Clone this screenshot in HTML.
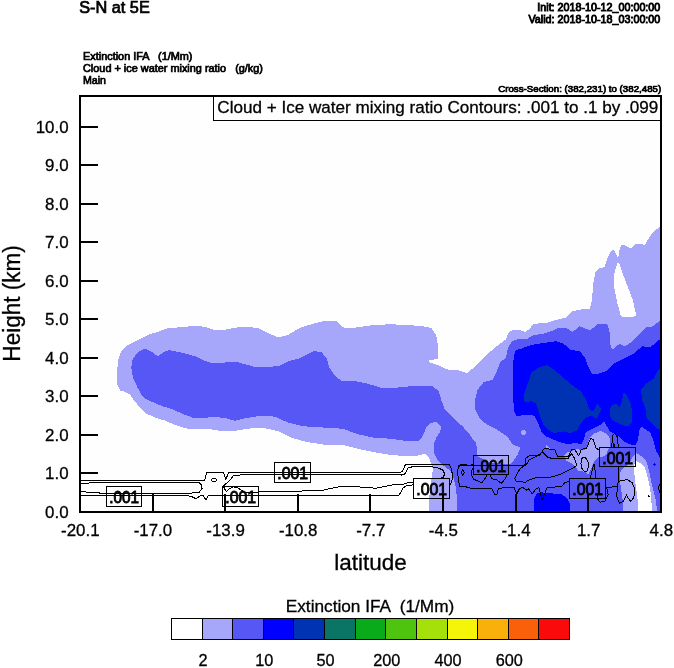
<!DOCTYPE html>
<html><head><meta charset="utf-8"><title>S-N at 5E</title>
<style>
html,body{margin:0;padding:0;background:#fff;}
body{width:674px;height:668px;overflow:hidden;font-family:"Liberation Sans",sans-serif;}
svg{display:block}
svg text{filter:grayscale(1)}
svg text{font-family:"Liberation Sans",sans-serif;fill:#000;white-space:pre;stroke:#000;stroke-width:0.3px}
.f path{stroke:none;shape-rendering:crispEdges}
.ax{stroke:#000;stroke-width:2;fill:none;shape-rendering:crispEdges}
.cl path{stroke:#000;stroke-width:1;fill:none;stroke-linejoin:round;shape-rendering:crispEdges}
.lb rect{fill:none;stroke:#000;stroke-width:1;shape-rendering:crispEdges}
.b text{stroke:#000;stroke-width:0.7px}
</style></head><body>
<svg width="674" height="668" viewBox="0 0 674 668">
<rect x="0" y="0" width="674" height="668" fill="#ffffff"/>

<rect x="80" y="96" width="581" height="416" fill="#fefefe"/>
<clipPath id="pc"><rect x="80" y="96" width="582" height="416"/></clipPath>
<g class="f" clip-path="url(#pc)">
<path fill="#a6a6fa" d="M117 375 L118 360 L121.25 351.25 L126.25 345.75 L135 341.25 L147.5 335 L157.5 332 L167.5 328.25 L182.5 327 L196.25 325.75 L205 327 L212.5 329.5 L221.25 330.5 L230 328.75 L240 327 L250 327 L260 328.75 L268 333 L278 337.5 L288 335 L300.5 327.5 L313 323.75 L325.5 320.5 L335.5 320.5 L344.25 328 L355.5 327.5 L373 325 L390.5 324.25 L408 325 L423 326.25 L431.25 328 L436.25 335 L438.25 347.5 L437.5 358.75 L428.75 360.5 L428.75 362 L435 364 L438.75 365.5 L447.5 369.5 L457.5 370 L467.5 373.25 L476.25 365 L485 356.25 L495 347.5 L505 340 L506 340 L508.5 332.5 L513.5 329.5 L519.75 330 L524.75 332 L529.75 328.75 L533.5 323.75 L546 323 L556 320 L566 317.5 L572.25 311.25 L581 309.5 L583.9 308.6 L589.7 309 L591.8 300.7 L593.4 282.6 L595.4 271.9 L598.7 268.6 L604.5 267 L607 259.5 L610.6 252.1 L613.2 249.3 L616 253.5 L618.2 258.7 L619.3 250 L621.8 244.4 L626.7 246.4 L630.8 248.3 L635.8 243.6 L644.8 244.7 L649.8 236.5 L654.7 230.7 L659.7 226.9 L662 226 L662 513 L429.4 513 L429.4 495.8 L431.2 481.5 L432.9 469 L429.4 458.4 L424.9 453.9 L418 455.5 L408 456.25 L390.5 455 L373 452 L355.5 448.25 L340.5 444.5 L323 444.5 L305.5 441.75 L290.5 437.5 L278 431.25 L268 428.75 L257.5 427.5 L247.5 428.75 L235 430.75 L222.5 431.25 L210 429.25 L195 429.5 L185 428.25 L175 425 L165.5 420.75 L155 417.5 L145 413 L140 407.5 L133.75 400 L130.5 395 L125 392 L120.5 390.5 L117.5 385Z"/>
<path fill="#ffffff" d="M617.2 263.2 L613.5 276 L613.5 284.3 L617.2 302.4 L621 316.4 L631.7 317.5 L636.3 315.2 L632.5 299.1 L626.7 284.3 L621.8 271.1 L619.3 263.2Z"/>
<path fill="#5757f5" d="M131.25 367.5 L132.5 360 L136.25 353.75 L141.25 350 L145.5 348.75 L150 350.75 L158 356.25 L163.75 352 L168.75 350 L175 351.25 L186.25 353.75 L195 356.25 L205 360.75 L212.5 363.25 L220 363.25 L227.5 362 L236.25 361.75 L245 364.25 L255 367 L262.5 367.5 L268 366.75 L278 366.25 L288 361.25 L298 358.75 L308 353.75 L314.25 350.75 L321.75 352.5 L326.75 358.75 L329.25 367.5 L334.25 375 L341.75 381.25 L353 380.75 L368 383.75 L380.5 387.5 L398 387.5 L415.5 385.75 L430.5 385.75 L432.5 386.25 L438.75 391.25 L441.25 400 L445 410 L452.5 417.5 L462.5 426.25 L470 435 L471.2 437 L475.7 442.3 L477.4 449.5 L477 456 L484 459.5 L491 463 L511 464 L513.5 461 L517.6 454.8 L520.3 447.7 L512.3 444.1 L507.8 437 L497.5 430 L487.5 425 L480 418.75 L475.5 410 L475 400 L477.5 390 L483.75 382 L492.5 380 L496.25 372.5 L500 362.5 L506 357.5 L508 347.5 L512.25 341.25 L518.5 338.75 L526 339.5 L533.5 335 L543.5 333.75 L551 331.25 L558.5 327.5 L566 327.5 L572.25 332 L579.75 326.25 L586 328.75 L589.75 330.5 L597.25 324.5 L607.25 323.75 L609.75 332.5 L610.5 345 L612.25 349.5 L619.75 343.75 L624.75 346.25 L631 342.5 L638.5 335 L646 327.5 L653.5 326.25 L660.25 320 L662 320 L662 513 L456.6 513 L457 499.3 L456.1 488.6 L453.4 477.9 L450.7 470.8 L444.5 466.4 L438.3 461 L433.8 453 L433.8 444.1 L436.5 437 L440 432.5 L441.25 426.25 L436.25 422 L430 423 L426.25 427.5 L422.3 437 L417.8 441.5 L408 441.25 L390.5 438.75 L373 437.5 L358 434.25 L343 428.75 L323 427.5 L303 426.25 L288 422.5 L275.5 417 L268 415.5 L257.5 416.25 L245 418.25 L235 420.75 L225 418 L212.5 416.75 L202.5 418.25 L192.5 417.5 L182.5 413.75 L172.5 409.25 L162.5 406.25 L152.5 402 L145 398.75 L141.25 394.5 L137.5 387.5 L133 377.5Z"/>
<path fill="#a6a6fa" d="M563.8 456.3 L566.8 452.7 L571.5 451 L577.5 449.2 L583.4 450.4 L587 448 L588.8 439.7 L591.1 436.7 L594.1 433.7 L600 430.8 L606 433.1 L610 438.5 L610.5 446 L608 450 L606 455 L602 457 L598.8 456.3 L594.1 461 L590.5 470.5 L588.2 474.7 L584.6 471.7 L578.7 471.1 L576.3 468.2 L572.7 464 L566.8 461Z"/>
<path fill="#a6a6fa" d="M636.1 452.6 L633.2 456.2 L629.6 463 L622.5 468.9 L619.5 473.6 L620.7 486.7 L622.5 498.5 L623.1 513 L656.9 513 L656.3 502.1 L653.9 492.6 L651 480.7 L648.6 468.9 L646.2 460.9 L641.5 456.2Z"/>
<path fill="#ffffff" d="M635.5 460.9 L641.5 463.9 L645 468 L647.4 476.3 L649.8 487 L651 496.2 L652.2 513 L638.5 513 L637.3 496.2 L635 480.7 L633.8 466.5Z"/>
<path fill="#a6a6fa" d="M546 445 L549.8 448.8 L546 448.8Z"/>
<path fill="#a6a6fa" d="M521 432.5a2.6 2.4 0 1 0 5.2 0a2.6 2.4 0 1 0 -5.2 0Z"/>
<path fill="#0000ff" d="M513.5 360 L514.75 352.5 L516.25 350 L521 348.75 L531 345 L543.5 343 L556 341.25 L563.5 343.75 L571 350 L579.75 351.25 L584.75 357.5 L588.5 367.5 L592.25 373.75 L598.5 373.75 L606 371.25 L613.5 363.75 L623.5 358.75 L633.5 353.75 L642.25 346.25 L649.75 347.5 L656 342.5 L662 337.5 L662 457.4 L659.9 457.4 L656.3 451.4 L653.3 440.7 L650.4 432.4 L645 428.9 L640.9 426.5 L639.1 431.2 L637.9 440.7 L635 445.5 L629.6 444.3 L624.9 441.9 L619.5 437.2 L614.8 433.6 L610 431.4 L607.2 426.6 L604.2 421.9 L601.2 424.2 L594.1 427.8 L588.2 430.8 L585.2 433.7 L584 439.7 L581 444.4 L575.1 442.6 L569.2 444.4 L560.9 442.6 L553.7 439.7 L546.6 436.7 L541.3 431.4 L537.7 421.9 L534.7 415.9 L530 414.7 L525 415 L521 415.5 L516.25 416.25 L513.75 410 L513.25 395 L513 375Z"/>
<path fill="#0000ff" d="M533.6 513 L533.6 499.3 L537.2 493.1 L541.6 492.2 L547 493.1 L561.2 494 L567.4 498.4 L570.1 504.7 L570.1 513Z"/>
<path fill="#0000ff" d="M653 464.5l1.5 -2 1.5 2 -1.5 2Z"/>
<path fill="#0032b4" d="M523.75 395 L526.25 387.5 L530 377.5 L531 372.5 L538.5 367.5 L547.25 365 L556 371.25 L566 380 L573.5 386.25 L581 391.25 L586 400 L589.75 410 L593.5 411.25 L597.25 403.75 L601 408.75 L600 412.4 L596.5 418.9 L591.7 415.9 L586.8 417.1 L581 423.1 L577.5 430.2 L570.4 433.1 L563.2 431.4 L553.7 433.1 L549 430.2 L543.1 424.2 L540.7 417.1 L538.3 410 L536 403.75 L531 401.25 L524.75 402.5Z"/>
<path fill="#0032b4" d="M616 403.75 L619.75 407.5 L622.25 400 L623.5 392.5 L627.25 396.25 L631 403.75 L632.25 415 L632 422.9 L628.4 426.5 L621.3 424.7 L613 420.6 L609.75 416.25 L609.75 408.75 L612.25 405Z"/>
<path fill="#0032b4" d="M662 367.5 L657.25 371.25 L653.5 378.75 L646 383.75 L641 390 L642.25 400 L646 410 L646.2 417 L649.8 421.7 L655.7 427.7 L662 430.6Z"/>
</g>
<g class="cl" clip-path="url(#pc)">
<path d="M80 480.5 L204.7 480.4 L206.6 472.6 L223.4 472.6 L225.9 479.6 L228.4 472.6 L270 472.3 L400.5 472.5 L402.2 471.2 L404.1 468.1 L405.3 464.7 L449.6 464.7 L450.8 467.5 L452.3 473.7 L452.1 479.9 L449.6 486.2 L449.6 487"/>
<path d="M223.4 486.3 L225.9 483.8 L229.6 480.7 L233.4 475.7 L244.6 474.6 L270 474.5 L400.5 474.5 L401.8 475.2 L405.3 473.7 L407.8 468.1 L412.2 466.8 L427.2 466.2 L437.1 467.5 L442.7 470 L444.6 473.7 L443.4 477.4 L438.4 478.7"/>
<path d="M223.4 486.3 L224.6 488.8 L226.5 491.9 L229 488.8 L233.4 486.9 L238.3 488.2 L240.8 490 L244 492 L258.5 492 L283.4 491.4 L320.8 490.6 L338.2 486.9 L358.2 486.9 L375.6 488.2 L395.6 484.4 L403.5 484.3 L408.5 482.4 L413.4 483"/>
<path d="M80 484 L93 482.5 L186 482.2 L198.5 482.2 L201 484.4 L202.2 488.2 L199.1 492.5 L186 493.4 L106 493.6 L95 492.6 L80 491.6"/>
<path d="M80 495.5 L186 495.4 L191 496.3 L196 498.8 L200.3 495.6 L203.4 495.6 L205.9 500 L208.4 495.4 L223.4 495.2 L258.5 495.6 L398 495.6 L398.5 495.5 L401 492.4 L402.9 488 L407.2 485.5 L413.4 484.9"/>
<path d="M211.3 480a2.7 1.6 0 1 0 5.4 0a2.7 1.6 0 1 0 -5.4 0Z"/>
<path d="M473 464.7 L468.3 465.6 L465.8 464.7 L460.8 464.7 L458.3 467.5 L457.7 471.2 L458.3 479.9 L459.6 486.2 L465.8 486.8 L470 488.1 L491.4 488.1 L494.7 494.7 L496.7 494.7 L498.7 488.1 L514.1 487.7 L516.7 494.1 L519.4 488.7 L522.7 487.4 L526.8 490.1 L528.8 488.7 L532.1 494.1 L535.4 489.4 L538.8 487.4 L542.1 500.1 L546.8 488.1 L548 487.4 L561.4 486.7 L564.7 482.7 L569.4 481.4"/>
<path d="M462.7 469.4l1.6 3 -1.6 3 -1.6 -3Z"/>
<path d="M473 468.5 L472 470 L471.4 474.9 L473.9 479.3 L482 482.7 L485.4 478 L487 474.5"/>
<path d="M489 474.5 L490 474.7 L492 478.7 L496.7 480 L501.4 483.4 L505.4 478.7 L506.7 474.3"/>
<path d="M458.3 465.5 L524.7 465.5 L526.1 458 L528.8 456 L539.4 455.3 L542.8 450.7 L544 448.7 L554.7 449.4 L557.4 456 L568.7 456 L572 449.4 L574.7 449.4 L578.7 456 L581.4 449.4 L586.7 448 L590.7 438 L593.4 440 L596.1 448 L599.7 450.7"/>
<path d="M528.8 460 L527.4 463.4 L524.1 466 L520.1 468.7 L517.4 473.4 L514.7 478.7 L516.7 482 L522.1 481.4 L524.7 482.7 L528.8 480 L536.8 477.4 L547.4 478 L557.4 475.4 L565.4 472 L573.4 468 L576.7 465.4 L574.7 458.7 L571.4 453.4 L568 458.7 L553.4 458.7 L548 457.4 L542.7 452 L540 454 L534 457.5 L528.8 460"/>
<path d="M581.5 461a3.2 6.2 -15 1 0 6.4 7a3.2 6.2 -15 1 0 -6.4 -7Z"/>
<path d="M590 478.7 L592.7 468 L594.1 464 L595.4 472 L596.1 478.7"/>
<path d="M611.8 446.7 L612.4 436 L614.8 433 L617.1 436.6 L618.3 446.7"/>
<path d="M613 446.7 L613.8 443 L614.8 446.7"/>
<path d="M618.9 466.3 L618.3 481.1 L617.4 486.7 L616.8 494.8 L617.1 498.5 L619.5 503.3 L623.7 500.9 L626.6 495 L628.4 498.5 L630.8 501.5 L633.8 497.4 L635 489 L632 482.5 L627.2 479.6 L620.7 480.7 L618.3 482.5"/>
<path d="M605.7 487.4 L616.8 486.7"/>
<path d="M597 492.6 L597.4 498.8 L600.1 502.1 L604.7 501.5 L608.2 495 L606.8 488.1"/>
<path d="M660 484 L658.1 487.9 L660 492.6"/>
<path d="M648 495.5h1v1h-1Z"/>
</g>
<g class="ax">
<path d="M80 473H98"/>
<path d="M80 435H98"/>
<path d="M80 396H98"/>
<path d="M80 358H98"/>
<path d="M80 319H98"/>
<path d="M80 281H98"/>
<path d="M80 242H98"/>
<path d="M80 204H98"/>
<path d="M80 165H98"/>
<path d="M80 127H98"/>
<path d="M153 512V494"/>
<path d="M225 512V494"/>
<path d="M298 512V494"/>
<path d="M370 512V494"/>
<path d="M443 512V494"/>
<path d="M516 512V494"/>
<path d="M588 512V494"/>
</g>
<g class="lb">
<rect x="106.5" y="486.5" width="35" height="20"/>
<text x="109.3" y="502.8" font-size="17" text-anchor="start" textLength="29.8" lengthAdjust="spacingAndGlyphs" style="stroke-width:0.9px">.001</text>
<rect x="222.5" y="486.5" width="36" height="20"/>
<text x="225.3" y="502.8" font-size="17" text-anchor="start" textLength="30.8" lengthAdjust="spacingAndGlyphs" style="stroke-width:0.9px">.001</text>
<rect x="274.5" y="462.5" width="36" height="20"/>
<text x="277.3" y="478.8" font-size="17" text-anchor="start" textLength="30.8" lengthAdjust="spacingAndGlyphs" style="stroke-width:0.9px">.001</text>
<rect x="413.5" y="478.5" width="36" height="20"/>
<text x="416.3" y="494.8" font-size="17" text-anchor="start" textLength="30.8" lengthAdjust="spacingAndGlyphs" style="stroke-width:0.9px">.001</text>
<rect x="473.5" y="455.5" width="35" height="19"/>
<text x="476.3" y="471.8" font-size="17" text-anchor="start" textLength="29.8" lengthAdjust="spacingAndGlyphs" style="stroke-width:0.9px">.001</text>
<rect x="569.5" y="478.5" width="36" height="20"/>
<text x="572.3" y="494.8" font-size="17" text-anchor="start" textLength="30.8" lengthAdjust="spacingAndGlyphs" style="stroke-width:0.9px">.001</text>
<rect x="599.5" y="447.5" width="36" height="19"/>
<text x="602.3" y="463.8" font-size="17" text-anchor="start" textLength="30.8" lengthAdjust="spacingAndGlyphs" style="stroke-width:0.9px">.001</text>
</g>
<rect x="213.5" y="96" width="447.5" height="24.5" fill="#fefefe" stroke="#000" stroke-width="1" shape-rendering="crispEdges"/>
<text x="217.3" y="112.8" font-size="17" text-anchor="start" textLength="441" lengthAdjust="spacingAndGlyphs" >Cloud + Ice water mixing ratio Contours: .001 to .1 by .099</text>
<rect class="ax" x="80" y="96" width="581" height="416"/>
<text x="68.6" y="517.9" font-size="16.9" text-anchor="end" >0.0</text>
<text x="68.6" y="478.9" font-size="16.9" text-anchor="end" >1.0</text>
<text x="68.6" y="440.9" font-size="16.9" text-anchor="end" >2.0</text>
<text x="68.6" y="401.9" font-size="16.9" text-anchor="end" >3.0</text>
<text x="68.6" y="363.9" font-size="16.9" text-anchor="end" >4.0</text>
<text x="68.6" y="324.9" font-size="16.9" text-anchor="end" >5.0</text>
<text x="68.6" y="286.9" font-size="16.9" text-anchor="end" >6.0</text>
<text x="68.6" y="247.9" font-size="16.9" text-anchor="end" >7.0</text>
<text x="68.6" y="209.9" font-size="16.9" text-anchor="end" >8.0</text>
<text x="68.6" y="170.9" font-size="16.9" text-anchor="end" >9.0</text>
<text x="68.6" y="132.9" font-size="16.9" text-anchor="end" >10.0</text>
<text x="80.3" y="535.9" font-size="16.9" text-anchor="middle" >-20.1</text>
<text x="152.9" y="535.9" font-size="16.9" text-anchor="middle" >-17.0</text>
<text x="225.6" y="535.9" font-size="16.9" text-anchor="middle" >-13.9</text>
<text x="298.2" y="535.9" font-size="16.9" text-anchor="middle" >-10.8</text>
<text x="370.8" y="535.9" font-size="16.9" text-anchor="middle" >-7.7</text>
<text x="443.4" y="535.9" font-size="16.9" text-anchor="middle" >-4.5</text>
<text x="516.0" y="535.9" font-size="16.9" text-anchor="middle" >-1.4</text>
<text x="588.7" y="535.9" font-size="16.9" text-anchor="middle" >1.7</text>
<text x="661.3" y="535.9" font-size="16.9" text-anchor="middle" >4.8</text>
<text x="370.5" y="569.7" font-size="22.5" text-anchor="middle" textLength="72.5" lengthAdjust="spacingAndGlyphs" >latitude</text>
<text transform="translate(20,303.4) rotate(-90)" font-size="23.3" text-anchor="middle" textLength="116.5" lengthAdjust="spacingAndGlyphs">Height (km)</text>
<text x="79.2" y="12.6" font-size="16" text-anchor="start" textLength="70.6" lengthAdjust="spacingAndGlyphs" style="stroke-width:0.7px">S-N at 5E</text>
<g class="b">
<text x="83" y="59.6" font-size="10.3" text-anchor="start" textLength="109.5" lengthAdjust="spacingAndGlyphs" >Extinction IFA   (1/Mm)</text>
<text x="83" y="71.7" font-size="10.3" text-anchor="start" textLength="180" lengthAdjust="spacingAndGlyphs" >Cloud + ice water mixing ratio   (g/kg)</text>
<text x="83" y="83.8" font-size="10.3" text-anchor="start" textLength="23" lengthAdjust="spacingAndGlyphs" >Main</text>
<text x="660.3" y="10.5" font-size="10.5" text-anchor="end" textLength="123" lengthAdjust="spacingAndGlyphs" style="stroke-width:0.85px">Init: 2018-10-12_00:00:00</text>
<text x="660.3" y="23.1" font-size="10.5" text-anchor="end" textLength="131.8" lengthAdjust="spacingAndGlyphs" style="stroke-width:0.85px">Valid: 2018-10-18_03:00:00</text>
<text x="661.2" y="91.5" font-size="9" text-anchor="end" textLength="163" lengthAdjust="spacingAndGlyphs" >Cross-Section: (382,231) to (382,485)</text>
</g>
<text x="370" y="612.1" font-size="17" text-anchor="middle" textLength="168.5" lengthAdjust="spacingAndGlyphs" >Extinction IFA  (1/Mm)</text>
<rect x="171.40" y="618.5" width="30.62" height="21.0" fill="#ffffff" stroke="#000" stroke-width="1" shape-rendering="crispEdges"/>
<rect x="202.02" y="618.5" width="30.62" height="21.0" fill="#a6a6fa" stroke="#000" stroke-width="1" shape-rendering="crispEdges"/>
<rect x="232.65" y="618.5" width="30.62" height="21.0" fill="#5757f5" stroke="#000" stroke-width="1" shape-rendering="crispEdges"/>
<rect x="263.27" y="618.5" width="30.62" height="21.0" fill="#0000ff" stroke="#000" stroke-width="1" shape-rendering="crispEdges"/>
<rect x="293.89" y="618.5" width="30.62" height="21.0" fill="#0032b4" stroke="#000" stroke-width="1" shape-rendering="crispEdges"/>
<rect x="324.52" y="618.5" width="30.62" height="21.0" fill="#0a7564" stroke="#000" stroke-width="1" shape-rendering="crispEdges"/>
<rect x="355.14" y="618.5" width="30.62" height="21.0" fill="#0aab1a" stroke="#000" stroke-width="1" shape-rendering="crispEdges"/>
<rect x="385.76" y="618.5" width="30.62" height="21.0" fill="#4fc40f" stroke="#000" stroke-width="1" shape-rendering="crispEdges"/>
<rect x="416.38" y="618.5" width="30.62" height="21.0" fill="#a5e00a" stroke="#000" stroke-width="1" shape-rendering="crispEdges"/>
<rect x="447.01" y="618.5" width="30.62" height="21.0" fill="#f5f50a" stroke="#000" stroke-width="1" shape-rendering="crispEdges"/>
<rect x="477.63" y="618.5" width="30.62" height="21.0" fill="#fab00a" stroke="#000" stroke-width="1" shape-rendering="crispEdges"/>
<rect x="508.25" y="618.5" width="30.62" height="21.0" fill="#fa600a" stroke="#000" stroke-width="1" shape-rendering="crispEdges"/>
<rect x="538.88" y="618.5" width="30.62" height="21.0" fill="#fa0a0a" stroke="#000" stroke-width="1" shape-rendering="crispEdges"/>
<text x="203.0" y="666.4" font-size="16.3" text-anchor="middle" >2</text>
<text x="264.3" y="666.4" font-size="16.3" text-anchor="middle" >10</text>
<text x="325.5" y="666.4" font-size="16.3" text-anchor="middle" >50</text>
<text x="386.8" y="666.4" font-size="16.3" text-anchor="middle" >200</text>
<text x="448.0" y="666.4" font-size="16.3" text-anchor="middle" >400</text>
<text x="509.3" y="666.4" font-size="16.3" text-anchor="middle" >600</text>
</svg></body></html>
